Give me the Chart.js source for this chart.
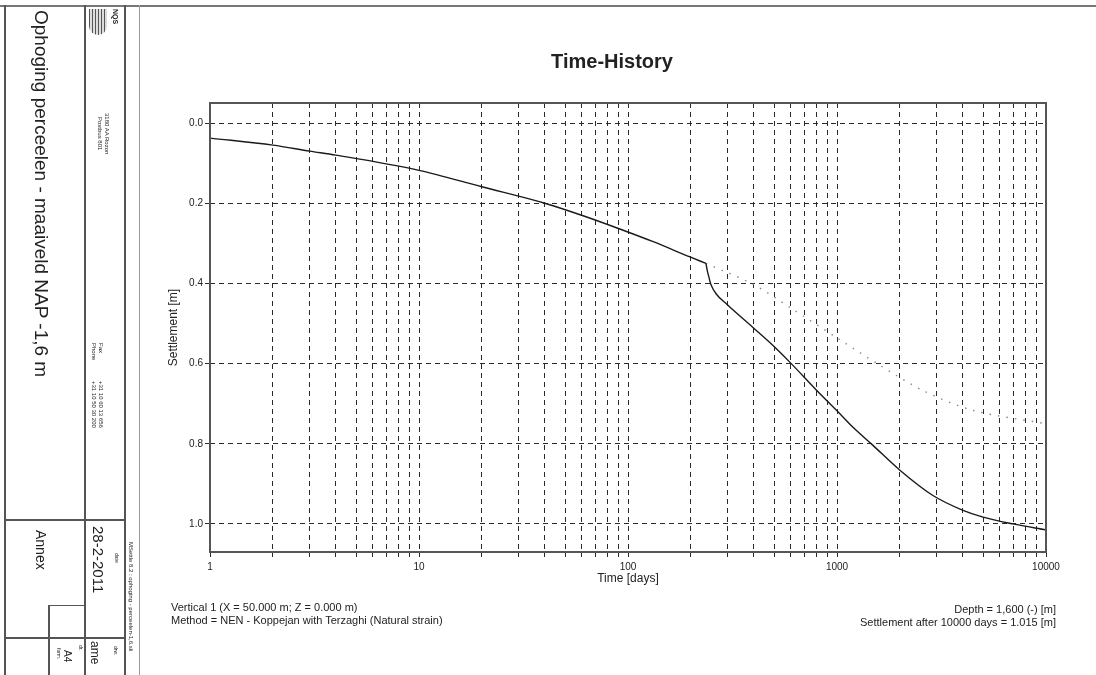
<!DOCTYPE html>
<html><head><meta charset="utf-8">
<script src="https://cdn.jsdelivr.net/npm/chart.js@4/dist/chart.umd.min.js"></script>
<style>
html,body{margin:0;padding:0;background:#fff;}
#wrap{position:relative;width:1096px;height:675px;overflow:hidden;font-family:"Liberation Sans",Arial,sans-serif;color:#222;}
#c{position:absolute;left:0;top:0;}
.ln{position:absolute;background:#555;}
.rt{position:absolute;transform-origin:0 0;transform:rotate(90deg);white-space:nowrap;line-height:1;}
.t{position:absolute;white-space:nowrap;font-size:11px;line-height:13px;color:#222;}
</style></head>
<body><div id="wrap">
<canvas id="c" width="1096" height="675"></canvas>
<!-- title block lines -->
<div class="ln" style="left:0;top:5px;width:1096px;height:1.5px;background:#777"></div>
<div class="ln" style="left:4px;top:5px;width:1.5px;height:670px"></div>
<div class="ln" style="left:84px;top:5px;width:1.5px;height:670px"></div>
<div class="ln" style="left:124px;top:5px;width:1.5px;height:670px"></div>
<div class="ln" style="left:139px;top:5px;width:1px;height:670px;background:#999"></div>
<div class="ln" style="left:4px;top:519px;width:121px;height:1.5px"></div>
<div class="ln" style="left:4px;top:637px;width:121px;height:1.5px"></div>
<div class="ln" style="left:48px;top:605px;width:1.5px;height:70px"></div>
<div class="ln" style="left:48px;top:605px;width:37px;height:1px"></div>
<!-- logo -->
<div style="position:absolute;left:89px;top:9px;width:18px;height:26px;border-radius:0 0 9px 9px;background:repeating-linear-gradient(90deg,#555 0 1.5px,#ddd 1.5px 3px);"></div>
<div class="rt" style="left:119px;top:9px;font-size:7px;font-weight:bold;">NQS</div>
<!-- title block texts -->
<div class="rt" style="left:51px;top:10px;font-size:19px;">Ophoging perceelen - maaiveld NAP -1,6 m</div>
<div class="rt" style="left:103px;top:117px;font-size:6px;">Postbus 801</div>
<div class="rt" style="left:110px;top:113px;font-size:6px;">3180 AA Rozon</div>
<div class="rt" style="left:97px;top:343px;font-size:6px;">Phone</div>
<div class="rt" style="left:104px;top:343px;font-size:6px;">Fax</div>
<div class="rt" style="left:97px;top:381px;font-size:6px;">+31 10 50 30 200</div>
<div class="rt" style="left:104px;top:381px;font-size:6px;">+31 10 60 13 656</div>
<div class="rt" style="left:48px;top:530px;font-size:14px;">Annex</div>
<div class="rt" style="left:106px;top:526px;font-size:15px;">28-2-2011</div>
<div class="rt" style="left:119px;top:553px;font-size:5px;">date</div>
<div class="rt" style="left:134px;top:542px;font-size:6px;">MSettle 8.2 : ophoging - perceelen-1,6.sli</div>
<div class="rt" style="left:118px;top:646px;font-size:5px;">drw.</div>
<div class="rt" style="left:101px;top:641px;font-size:12px;">ame</div>
<div class="rt" style="left:83px;top:645px;font-size:5px;">dr.</div>
<div class="rt" style="left:61px;top:648px;font-size:5px;">form.</div>
<div class="rt" style="left:72px;top:650px;font-size:10px;">A4</div>
<!-- info texts -->
<div class="t" style="left:171px;top:601px;">Vertical 1 (X = 50.000 m; Z = 0.000 m)<br>Method = NEN - Koppejan with Terzaghi (Natural strain)</div>
<div class="t" style="right:40px;top:603px;text-align:right;">Depth = 1,600 (-) [m]<br>Settlement after 10000 days = 1.015 [m]</div>
</div>
<script>
// ---- data ----
// before the extra load (up to the kink)
const daysA = [1, 2, 3, 4, 10, 20, 40, 60, 90, 132, 198, 236];
const settlementA = [0.0375, 0.055, 0.07, 0.08, 0.118, 0.159, 0.200, 0.230, 0.263, 0.296, 0.334, 0.350];
// after the kink
const daysB = [236, 239.5, 244, 249, 265, 297, 396, 494, 596, 800, 997, 1193, 1486, 2000, 2877, 4009, 4997, 6950, 10000];
const settlementB = [0.350, 0.368, 0.385, 0.402, 0.427, 0.452, 0.51, 0.555, 0.597, 0.667, 0.717, 0.759, 0.804, 0.866, 0.929, 0.966, 0.983, 1.0, 1.015];
// faint dotted line
const dotDays = [236, 396, 596, 1029, 1601, 2572, 4492, 10000];
const dotSettlement = [0.350, 0.402, 0.46, 0.54, 0.604, 0.667, 0.717, 0.75];
const xTickLabels = [1, 10, 100, 1000, 10000];
const yTickValues = [0.0, 0.2, 0.4, 0.6, 0.8, 1.0];

const xGrid = [];
for (let d = 1; d < 10000; d *= 10) for (let m = 1; m < 10; m++) xGrid.push(d * m);
xGrid.push(10000);

const borderPlugin = {
  id: 'plotBorder',
  afterDraw(chart) {
    const {ctx, chartArea: a} = chart;
    ctx.save();
    ctx.strokeStyle = '#555';
    ctx.lineWidth = 2;
    ctx.setLineDash([]);
    ctx.strokeRect(a.left, a.top, a.right - a.left, a.bottom - a.top);
    ctx.restore();
  }
};

const gridStyle = {
  color: '#2a2a2a', lineWidth: 1, tickLength: 5,
  tickColor: '#2a2a2a', tickBorderDash: [], drawTicks: true
};
const borderStyle = {display: false, dash: [5, 4]};
const pts = (xs, ys) => xs.map((d, i) => ({x: d, y: ys[i]}));
const curveStyle = {borderColor: '#1a1a1a', borderWidth: 1.4, pointRadius: 0, cubicInterpolationMode: 'monotone', fill: false};

new Chart(document.getElementById('c'), {
  type: 'line',
  data: {
    datasets: [
      Object.assign({data: pts(daysA, settlementA)}, curveStyle),
      Object.assign({data: pts(daysB, settlementB)}, curveStyle),
      {
        data: pts(dotDays, dotSettlement),
        borderColor: '#8a8a8a', borderWidth: 1.4, pointRadius: 0,
        borderDash: [1.5, 7], tension: 0.3, fill: false
      }
    ]
  },
  plugins: [borderPlugin],
  options: {
    responsive: false, animation: false, devicePixelRatio: 1,
    layout: {padding: {left: 178, right: 50, top: 0, bottom: 0}},
    plugins: {
      legend: {display: false}, tooltip: {enabled: false},
      title: {
        display: true, text: 'Time-History', fullSize: true,
        color: '#222', font: {family: '"Liberation Sans", Arial, sans-serif', size: 20, weight: 'bold'},
        padding: {top: 50.5, bottom: 28.5}
      }
    },
    scales: {
      x: {
        type: 'logarithmic', min: 1, max: 10000,
        grid: gridStyle,
        border: borderStyle,
        afterBuildTicks(s) { s.ticks = xGrid.map(v => ({value: v})); },
        afterFit(s) { s.height = 123; },
        ticks: {
          autoSkip: false, maxRotation: 0, padding: 4, color: '#222',
          font: {family: '"Liberation Sans", Arial, sans-serif', size: 10},
          callback: (v) => xTickLabels.includes(v) ? String(v) : ''
        },
        title: {
          display: true, text: 'Time [days]', color: '#222',
          font: {family: '"Liberation Sans", Arial, sans-serif', size: 12},
          padding: {top: 0, bottom: 88.8}
        }
      },
      y: {
        type: 'linear', reverse: true, min: -0.05, max: 1.07,
        grid: gridStyle,
        border: borderStyle,
        afterBuildTicks(s) { s.ticks = yTickValues.map(v => ({value: v})); },
        afterFit(s) { s.width = 32; },
        ticks: {
          padding: 2, color: '#222',
          font: {family: '"Liberation Sans", Arial, sans-serif', size: 10},
          callback: (v) => Number(v).toFixed(1)
        },
        title: {
          display: true, text: 'Settlement [m]', color: '#222',
          font: {family: '"Liberation Sans", Arial, sans-serif', size: 12},
          padding: {top: -12, bottom: 0}
        }
      }
    }
  }
});
</script>
</body></html>
